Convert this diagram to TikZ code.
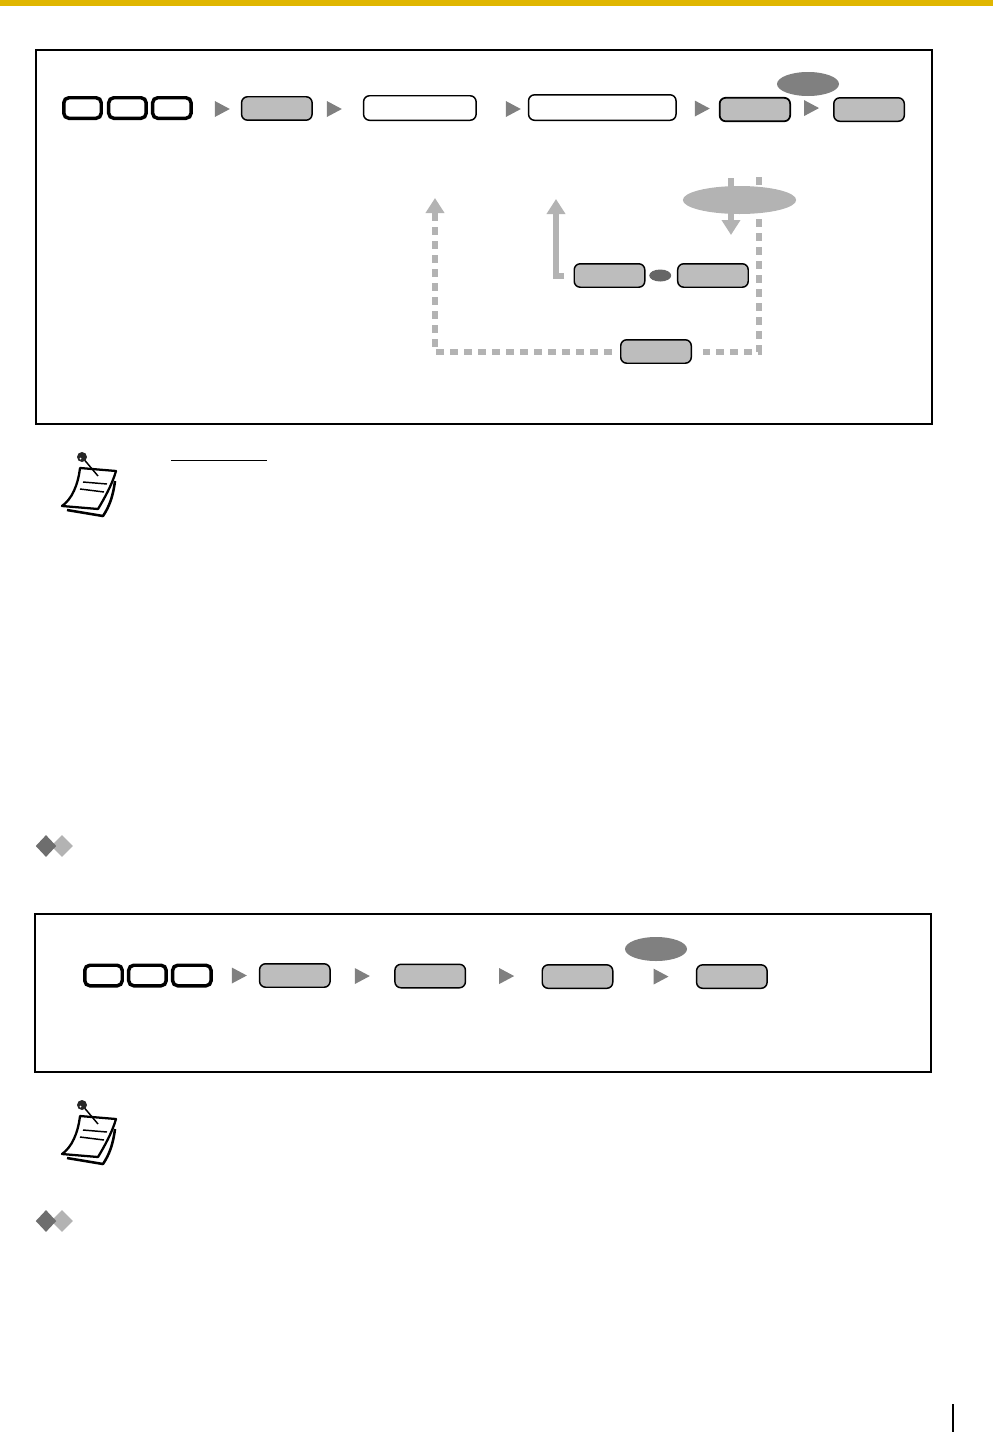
\documentclass[tikz,border=0pt]{standalone}
\usepackage{xcolor}
\usepackage{tikz}
\usetikzlibrary{positioning, arrows.meta, shapes.geometric}
\definecolor{BarYellow}{RGB}{224,182,0}
\definecolor{KeyGray}{RGB}{189,189,189}
\definecolor{TipGray}{RGB}{128,128,128}
\definecolor{FlowGray}{RGB}{179,179,179}
\definecolor{DotGray}{RGB}{102,102,102}
\definecolor{DiamondGray}{RGB}{110,110,110}
\tikzset{
  noteicon/.pic={
    \fill[white] (-15,53) -- (21,59) .. controls (27,50) and (31,40) .. (31,33) -- (16,52) -- cycle;
    \draw[line width=1.9pt, line join=round] (-15,53) -- (21,59) .. controls (27,50) and (31,40) .. (33,24);
    \draw[line width=1.7pt, fill=white, line join=round] (-2,11) .. controls (-4,28) and (-10,42) .. (-20,49) -- (16,52) .. controls (22,42) and (30,28) .. (34,14) -- cycle;
    \draw[line width=1.1pt] (1,25) -- (25,27);
    \draw[line width=1.1pt] (-2,32) -- (22,35);
    \draw[line width=1.1pt] (0,0) -- (16,19);
    \fill[black!85] (0,0) circle[radius=5];
    \fill[white] (-1.5,1.5) circle[radius=1];
  }
}

\begin{document}
\begin{tikzpicture}[x=0.75pt, y=-0.75pt,
  framebox/.style={draw, line width=1.5pt},
  keybox/.style={draw, line width=2.6pt, rounded corners=3.8pt, minimum width=28.1pt, minimum height=15.4pt, inner sep=0pt},
  greybox/.style={draw, line width=1.1pt, rounded corners=4.5pt, fill=KeyGray, minimum width=52.9pt, minimum height=17.6pt, inner sep=0pt},
  openbox/.style={draw, line width=1.1pt, rounded corners=4.5pt, fill=white, inner sep=0pt},
  pointer/.style={isosceles triangle, isosceles triangle stretches, fill=TipGray, inner sep=0pt, outer sep=0pt, minimum width=12pt, minimum height=11.25pt},
  oval/.style={ellipse, fill=TipGray, inner sep=0pt},
  flow/.style={line width=4.5pt, FlowGray, -{Triangle[width=13.5pt, length=11.25pt]}},
  dashflow/.style={flow, dash pattern=on 6pt off 4.5pt},
  mark dark/.style={diamond, fill=DiamondGray, inner sep=0pt, minimum width=15.5pt, minimum height=16.5pt},
  mark light/.style={diamond, fill=FlowGray, inner sep=0pt, minimum width=16.5pt, minimum height=16.5pt}]
\useasboundingbox (0,0) rectangle (993,1432);

% page bar and page edge rule
\node[fill=BarYellow, inner sep=0pt, minimum width=744.75pt, minimum height=4.5pt] (bar) at (496.5,3) {};
\node[fill=black, inner sep=0pt, minimum width=1.5pt, minimum height=21pt] (edgerule) at (953,1418) {};

% first panel
\node[framebox, minimum width=672pt, minimum height=280.5pt] (panelA) at (484,237) {};

\node[keybox] (keyA1) at (82.5,108) {};
\node[keybox, right=3pt of keyA1] (keyA2) {};
\node[keybox, minimum width=28.85pt, right=2.25pt of keyA2] (keyA3) {};
\node[pointer, right=16.5pt of keyA3, yshift=-0.75pt] (tipA1) {};
\node[greybox, right=8.25pt of tipA1, yshift=0.4pt] (stepA1) {};
\node[pointer, right=10.5pt of stepA1, yshift=-0.4pt] (tipA2) {};
\node[openbox, minimum width=84.4pt, minimum height=18.4pt, right=15.75pt of tipA2, yshift=0.75pt] (entryA1) {};
\node[pointer, right=21.75pt of entryA1, yshift=-0.75pt] (tipA3) {};
\node[openbox, minimum width=110.6pt, minimum height=19.1pt, right=5.25pt of tipA3, yshift=1.1pt] (entryA2) {};
\node[pointer, right=13.5pt of entryA2, yshift=-0.75pt] (tipA4) {};
\node[greybox, line width=1.3pt, right=6.75pt of tipA4, yshift=-0.75pt] (stepA2) {};
\node[pointer, right=9.75pt of stepA2, yshift=1.1pt] (tipA5) {};
\node[greybox, right=10.5pt of tipA5, yshift=-1.1pt] (stepA3) {};
\node[oval, minimum width=46.5pt, minimum height=18pt] (ovalA) at (808,84) {};

% nodes below the first row
\node[greybox] (stepB1) at (609.5,275.5) {};
\node[ellipse, fill=DotGray, inner sep=0pt, minimum width=16.5pt, minimum height=9pt, right=2.6pt of stepB1] (dotB) {};
\node[greybox, right=4.1pt of dotB] (stepB2) {};
\node[greybox] (stepC) at (656,351.5) {};

\coordinate (downTop) at (731,178);
\coordinate (downEnd) at (731,235);
\coordinate (dashTop) at (759,177);
\coordinate (dashEnd) at (435,198);
\coordinate (solidEnd) at (556,199);

\draw[flow] (downTop) -- (downEnd);
\draw[flow, shorten <=7pt, -{Triangle[width=13.5pt, length=11.25pt]}] (stepB1.west) -| (solidEnd);
\draw[line width=4.5pt, FlowGray, dash pattern=on 6pt off 4.5pt, shorten >=8pt] (dashTop) |- (stepC.east);
\draw[dashflow, shorten <=6pt] (stepC.west) -| (dashEnd);

\node[ellipse, fill=FlowGray, inner sep=0pt, minimum width=85pt, minimum height=21pt] (ovalB) at (739.5,200) {};

% note under the first panel
\pic at (82,457) {noteicon};
\draw[line width=0.75pt] (171,460) -- (267,460);

\node[mark light] (markA2) at (62,846) {};
\node[mark dark] (markA1) at (46,846) {};

% second panel
\node[framebox, minimum width=672pt, minimum height=118.5pt] (panelB) at (483,993) {};

\node[keybox] (keyD1) at (103.5,975.5) {};
\node[keybox, right=2.25pt of keyD1] (keyD2) {};
\node[keybox, minimum width=28.85pt, right=2.25pt of keyD2] (keyD3) {};
\node[pointer, right=14.25pt of keyD3] (tipD1) {};
\node[greybox, right=9pt of tipD1] (stepD1) {};
\node[pointer, right=18pt of stepD1, yshift=-0.4pt] (tipD2) {};
\node[greybox, right=18.25pt of tipD2] (stepD2) {};
\node[pointer, right=24.75pt of stepD2] (tipD3) {};
\node[greybox, right=20.5pt of tipD3, yshift=-0.4pt] (stepD3) {};
\node[pointer, right=30pt of stepD3] (tipD4) {};
\node[greybox, right=20.5pt of tipD4] (stepD4) {};
\node[oval, minimum width=46.5pt, minimum height=18pt] (ovalD) at (656,949) {};

% note under the second panel
\pic at (82,1105) {noteicon};

\node[mark light] (markB2) at (62,1221) {};
\node[mark dark] (markB1) at (46,1221) {};
\end{tikzpicture}
\end{document}
